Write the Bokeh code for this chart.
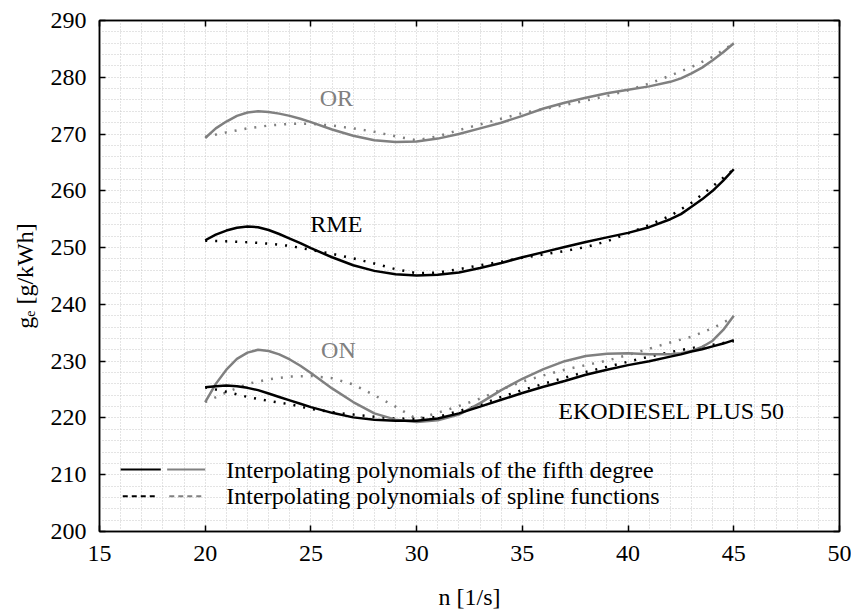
from bokeh.plotting import figure
from bokeh.models import LinearAxis, SingleIntervalTicker, Label, Range1d, CustomJSTickFormatter
from bokeh.embed import file_html
from bokeh.resources import INLINE

# ---- data ----
# fifth-degree polynomial curves (denser sampling where the curves bend)
n_poly = [20, 20.5, 21, 21.5, 22, 22.5, 23, 23.5, 24, 24.5, 25,
          26, 27, 28, 29, 30, 31, 32, 33, 34, 35, 36, 37, 38, 39, 40, 41, 42,
          42.5, 43, 43.5, 44, 44.5, 45]
or_poly = [269.3, 271.0, 272.2, 273.2, 273.8, 274.0, 273.9, 273.6, 273.2, 272.7, 272.1,
           270.8, 269.7, 268.9, 268.6, 268.7, 269.2, 270.0, 271.0, 272.0, 273.2, 274.5,
           275.5, 276.4, 277.2, 277.8, 278.4, 279.2,
           279.8, 280.7, 281.7, 283.0, 284.4, 286.0]
rme_poly = [251.3, 252.3, 253.0, 253.5, 253.7, 253.6, 253.1, 252.4, 251.6, 250.8, 249.9,
            248.3, 246.9, 245.9, 245.3, 245.1, 245.2, 245.6, 246.4, 247.3, 248.3, 249.2,
            250.1, 251.0, 251.8, 252.6, 253.6, 255.0,
            255.9, 257.2, 258.5, 260.0, 261.8, 263.8]
on_poly = [222.8, 226.0, 228.5, 230.4, 231.5, 232.0, 231.8, 231.2, 230.3, 229.2, 227.9,
           225.2, 222.8, 220.8, 219.7, 219.3, 219.6, 220.6, 222.6, 224.9, 226.9, 228.6,
           230.0, 230.9, 231.3, 231.4, 231.2, 231.2,
           231.4, 231.8, 232.5, 233.6, 235.5, 238.0]
eko_poly = [225.4, 225.6, 225.7, 225.6, 225.3, 224.9, 224.3, 223.7, 223.1, 222.5, 221.9,
            220.9, 220.1, 219.7, 219.5, 219.5, 219.9, 220.8, 222.0, 223.2, 224.4, 225.5,
            226.5, 227.6, 228.5, 229.3, 230.0, 230.8,
            231.2, 231.7, 232.1, 232.6, 233.1, 233.7]

# spline curves
n_spline = list(range(20, 46))
or_spline = [269.5, 270.3, 271.0, 271.5, 271.8, 271.8, 271.5, 271.0, 270.4, 269.6,
             268.9, 269.6, 270.7, 271.7, 272.7, 273.7, 274.4, 275.1, 275.9, 276.7,
             277.7, 278.9, 280.3, 281.8, 283.6, 286.0]
rme_spline = [251.2, 251.1, 250.95, 250.7, 250.3, 249.6, 248.9, 248.1, 247.2, 246.2,
              245.5, 245.6, 246.2, 246.9, 247.5, 248.2, 248.8, 249.4, 250.1, 251.1,
              252.5, 254.0, 255.6, 257.9, 260.8, 263.8]
on_spline = [222.8, 224.5, 226.0, 226.8, 227.3, 227.4, 227.0, 225.9, 224.0, 222.0,
             219.8, 220.9, 222.1, 223.4, 225.0, 226.4, 227.5, 228.5, 229.3, 230.1,
             231.1, 232.2, 233.3, 234.3, 235.8, 237.8]
eko_spline = [225.4, 224.6, 223.7, 223.0, 222.4, 221.6, 221.0, 220.6, 220.2, 219.9,
              219.85, 220.2, 221.2, 222.3, 223.7, 224.9, 226.0, 227.1, 228.1, 229.0,
              229.9, 230.8, 231.6, 232.3, 232.9, 233.5]

legend_labels = ["Interpolating polynomials of the fifth degree",
                 "Interpolating polynomials of spline functions"]

BLACK = "#000000"
GRAY = "#808080"
FONT = "Liberation Serif"
FS = "24px"

p = figure(width=851, height=612, x_range=Range1d(15, 50), y_range=Range1d(200, 290),
           output_backend="svg", toolbar_location=None,
           min_border_left=99, min_border_right=12, min_border_top=20, min_border_bottom=81)
p.background_fill_color = "white"
p.border_fill_color = "white"
p.outline_line_color = BLACK
p.outline_line_width = 1.5

p.xaxis.ticker = SingleIntervalTicker(interval=5)
p.yaxis.ticker = SingleIntervalTicker(interval=10)
p.xgrid.ticker = SingleIntervalTicker(interval=1)
p.ygrid.ticker = SingleIntervalTicker(interval=2)
for g in (p.xgrid, p.ygrid):
    g.grid_line_color = "#c8c8c8"
    g.grid_line_dash = "1 2"
    g.grid_line_width = 1

for ax in (p.xaxis, p.yaxis):
    ax.axis_line_color = BLACK
    ax.axis_line_width = 1.5
    ax.major_tick_in = 6
    ax.major_tick_out = 0
    ax.major_tick_line_width = 1.5
    ax.minor_tick_line_color = None
    ax.major_label_text_font = FONT
    ax.major_label_text_font_size = FS
    ax.major_label_text_color = BLACK
    ax.axis_label_text_font = FONT
    ax.axis_label_text_font_size = FS
    ax.axis_label_text_font_style = "normal"
    ax.axis_label_text_color = BLACK

p.xaxis.major_label_standoff = 10
p.yaxis.major_label_standoff = 9
p.xaxis.axis_label = "n [1/s]"
p.xaxis.axis_label_standoff = 20
p.yaxis.axis_label = "gₑ [g/kWh]"
p.yaxis.axis_label_standoff = 10

blank = CustomJSTickFormatter(code="return '';")
right = LinearAxis(ticker=SingleIntervalTicker(interval=10), formatter=blank,
                   major_label_standoff=0, major_label_text_font_size="8px",
                   major_tick_in=6, major_tick_out=0, minor_tick_line_color=None,
                   axis_line_width=1.5, major_tick_line_width=1.5)
top = LinearAxis(ticker=SingleIntervalTicker(interval=5), formatter=blank,
                 major_label_standoff=0, major_label_text_font_size="8px",
                 major_tick_in=6, major_tick_out=0, minor_tick_line_color=None,
                 axis_line_width=1.5, major_tick_line_width=1.5)
p.add_layout(right, "right")
p.add_layout(top, "above")

LW = 2.5
DOT = "2 8"
p.line(n_spline, or_spline, line_color=GRAY, line_width=LW, line_dash=DOT)
p.line(n_spline, on_spline, line_color=GRAY, line_width=LW, line_dash=DOT)
p.line(n_spline, rme_spline, line_color=BLACK, line_width=LW, line_dash=DOT)
p.line(n_spline, eko_spline, line_color=BLACK, line_width=LW, line_dash=DOT)
p.line(n_poly, or_poly, line_color=GRAY, line_width=LW, line_join="round")
p.line(n_poly, on_poly, line_color=GRAY, line_width=LW, line_join="round")
p.line(n_poly, eko_poly, line_color=BLACK, line_width=LW, line_join="round")
p.line(n_poly, rme_poly, line_color=BLACK, line_width=LW, line_join="round")

# series labels
p.add_layout(Label(x=26.2, y=276.3, text="OR", text_font=FONT, text_font_size=FS,
                   text_color=GRAY, text_align="center", text_baseline="middle"))
p.add_layout(Label(x=26.2, y=254.1, text="RME", text_font=FONT, text_font_size=FS,
                   text_color=BLACK, text_align="center", text_baseline="middle"))
p.add_layout(Label(x=26.3, y=231.9, text="ON", text_font=FONT, text_font_size=FS,
                   text_color=GRAY, text_align="center", text_baseline="middle"))
p.add_layout(Label(x=36.7, y=221.3, text="EKODIESEL PLUS 50", text_font=FONT, text_font_size=FS,
                   text_color=BLACK, text_align="left", text_baseline="middle"))

# legend (manual, two swatches per row)
y1, y2 = 210.9, 206.2
p.segment(x0=[16.0], y0=[y1], x1=[17.9], y1=[y1], line_color=BLACK, line_width=2)
p.segment(x0=[18.2], y0=[y1], x1=[20.0], y1=[y1], line_color=GRAY, line_width=2)
p.segment(x0=[16.1], y0=[y2], x1=[17.8], y1=[y2], line_color=BLACK, line_width=2, line_dash="5 4")
p.segment(x0=[18.3], y0=[y2], x1=[20.0], y1=[y2], line_color=GRAY, line_width=2, line_dash="5 4")
p.add_layout(Label(x=21.0, y=y1, text=legend_labels[0], text_font=FONT, text_font_size=FS,
                   text_color=BLACK, text_align="left", text_baseline="middle"))
p.add_layout(Label(x=21.0, y=y2, text=legend_labels[1], text_font=FONT, text_font_size=FS,
                   text_color=BLACK, text_align="left", text_baseline="middle"))

open("out.html", "w").write(file_html(p, INLINE))
